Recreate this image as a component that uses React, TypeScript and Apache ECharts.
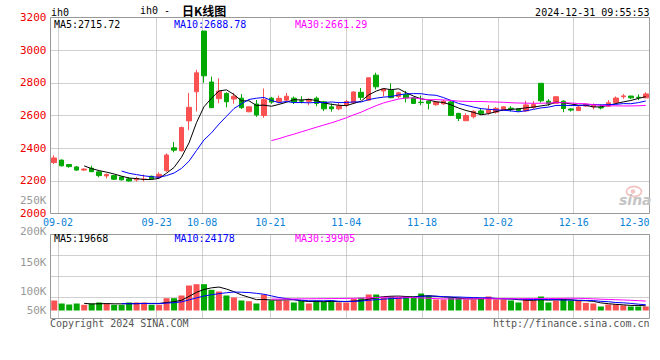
import React, { useEffect, useRef } from 'react';
import * as echarts from 'echarts';

// ---- data ----
const dates = [
  '08-30', '09-02', '09-03', '09-04', '09-05', '09-06', '09-09', '09-10', '09-11', '09-12', '09-13',
  '09-18', '09-19', '09-20', '09-23', '09-24', '09-25', '09-26', '09-27', '09-30',
  '10-08', '10-09', '10-10', '10-11', '10-14', '10-15', '10-16', '10-17', '10-18',
  '10-21', '10-22', '10-23', '10-24', '10-25', '10-28', '10-29', '10-30', '10-31', '11-01',
  '11-04', '11-05', '11-06', '11-07', '11-08', '11-11', '11-12', '11-13', '11-14', '11-15',
  '11-18', '11-19', '11-20', '11-21', '11-22', '11-25', '11-26', '11-27', '11-28', '11-29',
  '12-02', '12-03', '12-04', '12-05', '12-06', '12-09', '12-10', '12-11', '12-12', '12-13',
  '12-16', '12-17', '12-18', '12-19', '12-20', '12-23', '12-24', '12-25', '12-26', '12-27',
  '12-30',
];

const opens = [
  2312, 2327, 2300, 2285, 2266, 2277, 2255, 2230, 2232, 2224,
  2212, 2206, 2208, 2228, 2222, 2262, 2402, 2384, 2567, 2745,
  3117, 2805, 2703, 2735, 2701, 2706, 2623, 2670, 2600, 2706,
  2684, 2694, 2706, 2690, 2687, 2706, 2684, 2653, 2641, 2664,
  2678, 2742, 2694, 2847, 2750, 2755, 2716, 2728, 2708, 2681,
  2688, 2666, 2671, 2683, 2613, 2568, 2592, 2628, 2615, 2620,
  2632, 2645, 2641, 2628, 2650, 2797, 2688, 2675, 2688, 2640,
  2630, 2658, 2653, 2649, 2657, 2678, 2715, 2719, 2712, 2708,
];
const closes = [
  2340, 2292, 2287, 2266, 2272, 2256, 2232, 2239, 2210, 2206,
  2199, 2214, 2211, 2212, 2240, 2358, 2388, 2526, 2650, 2861,
  2843, 2648, 2749, 2684, 2718, 2648, 2653, 2603, 2697, 2682,
  2705, 2718, 2683, 2688, 2699, 2674, 2641, 2641, 2659, 2686,
  2744, 2711, 2831, 2776, 2763, 2709, 2739, 2708, 2674, 2679,
  2675, 2683, 2688, 2600, 2582, 2600, 2626, 2613, 2635, 2644,
  2653, 2641, 2631, 2665, 2667, 2690, 2673, 2715, 2643, 2633,
  2652, 2668, 2666, 2646, 2678, 2707, 2720, 2708, 2710, 2732,
];
const lows = [
  2303, 2288, 2280, 2261, 2262, 2254, 2222, 2215, 2205, 2202,
  2196, 2196, 2196, 2208, 2215, 2255, 2375, 2380, 2510, 2625,
  2800, 2645, 2675, 2650, 2672, 2641, 2620, 2592, 2586, 2672,
  2675, 2686, 2670, 2674, 2663, 2657, 2627, 2623, 2632, 2650,
  2672, 2695, 2690, 2760, 2716, 2705, 2705, 2680, 2670, 2663,
  2637, 2660, 2666, 2596, 2566, 2566, 2582, 2603, 2605, 2612,
  2628, 2625, 2622, 2622, 2640, 2680, 2660, 2672, 2620, 2624,
  2628, 2652, 2637, 2637, 2653, 2672, 2702, 2700, 2694, 2706,
];
const highs = [
  2357, 2330, 2302, 2291, 2277, 2292, 2258, 2245, 2236, 2228,
  2222, 2225, 2238, 2232, 2252, 2368, 2437, 2532, 2738, 2880,
  3118, 2838, 2828, 2742, 2737, 2731, 2655, 2695, 2765, 2714,
  2722, 2738, 2716, 2718, 2705, 2716, 2690, 2674, 2680, 2696,
  2748, 2768, 2833, 2862, 2766, 2797, 2745, 2750, 2712, 2722,
  2692, 2688, 2695, 2688, 2616, 2613, 2632, 2640, 2663, 2652,
  2657, 2657, 2645, 2690, 2688, 2798, 2700, 2716, 2692, 2645,
  2660, 2675, 2674, 2668, 2694, 2717, 2731, 2721, 2729, 2743,
];
const volumes = [
  42200, 29500, 25300, 29500, 24100, 29500, 33800, 29500, 24100, 24100,
  33800, 33800, 33800, 24100, 24100, 51900, 51900, 63300, 105500, 111000,
  111000, 87400, 80200, 63300, 54900, 42200, 39200, 29500, 67500, 42200,
  42200, 42200, 33800, 42200, 29500, 42200, 38000, 42200, 33800, 33800,
  49400, 53600, 67500, 67500, 53600, 59100, 56100, 59100, 59100, 71700,
  63300, 46400, 46400, 53600, 53600, 46400, 46400, 49400, 59100, 46400,
  46400, 42200, 33800, 49400, 42200, 59100, 33800, 42200, 49400, 42200,
  40000, 32000, 29500, 16900, 25300, 26000, 21800, 16900, 16900, 16900,
];

const tickLabels = ['09-02', '09-23', '10-08', '10-21', '11-04', '11-18', '12-02', '12-16', '12-30'];
const priceMaTexts = ['MA5:2715.72', 'MA10:2688.78', 'MA30:2661.29'];
const volMaTexts = ['MA5:19668', 'MA10:24178', 'MA30:39905'];
const volTickLabels = ['250K', '200K', '150K', '100K', '50K'];
const titleCode = 'ih0 -';
const titleName = '日K线图';
const timeStamp = '2024-12-31 09:55:53';

// ---- style / layout ----
const RED = '#fa5252';
const GREEN = '#00a800';
const MA_COLORS = ['#000000', '#0000ff', '#ff00ff'];
const MONO = '"DejaVu Sans Mono", monospace';
const GRID_LINE = '#a0a0a0';
const FRAME = '#999999';
const VOL_PER_PX = 4220;
const volTickY = [200.7, 231, 262, 291, 310];

function movingAverage(values: number[], n: number) {
  return values.map((_, i) => {
    if (i < n - 1) return '-';
    let s = 0;
    for (let k = i - n + 1; k <= i; k++) s += values[k];
    return +(s / n).toFixed(2);
  });
}

const isTick = (_i: number, v: string) => tickLabels.includes(v);

export default function App() {
  const ref = useRef<HTMLDivElement>(null);

  useEffect(() => {
    document.body.style.margin = '0';
    if (!ref.current) return;
    const chart = echarts.init(ref.current, undefined, { renderer: 'svg' });

    const candles = dates.map((_, i) => [opens[i], closes[i], lows[i], highs[i]]);
    const volData = volumes.map((v, i) => ({
      value: v,
      itemStyle: { color: closes[i] >= opens[i] ? RED : GREEN },
    }));
    const periods = [5, 10, 30];

    const text = (t: string, x: number, y: number, fill: string, extra: any = {}) => ({
      type: 'text',
      x,
      y,
      z: 100,
      style: {
        text: t,
        fill,
        font: `10px ${MONO}`,
        align: 'left',
        verticalAlign: 'middle',
        ...extra,
      },
    });

    const graphics: any[] = [
      text('ih0', 51, 12.3, '#000'),
      text(titleCode, 140, 10.5, '#000'),
      text(titleName, 182, 10.5, '#000', { font: 'bold 12px "Noto Sans CJK SC"' }),
      text(timeStamp, 649.5, 12.3, '#000', { align: 'right' }),
      ...priceMaTexts.map((t, k) => text(t, [54, 174, 295][k], 24.3, MA_COLORS[k])),
      ...volMaTexts.map((t, k) => text(t, [54, 174.5, 295][k], 238.3, MA_COLORS[k])),
      ...volTickLabels.map((t, k) => text(t, 46.5, volTickY[k], '#9a9a9a', { align: 'right', font: `11px ${MONO}` })),
      text('Copyright 2024 SINA.COM', 50, 323.5, '#555'),
      text('http://finance.sina.com.cn', 649.5, 323.5, '#555', { align: 'right' }),
      {
        type: 'ellipse',
        z: 1,
        shape: { cx: 634, cy: 191.5, rx: 7.5, ry: 5 },
        style: { fill: 'none', stroke: '#f2c4c4', lineWidth: 1.8 },
      },
      {
        type: 'circle',
        z: 1,
        shape: { cx: 633, cy: 191.5, r: 2.3 },
        style: { fill: '#f2c4c4' },
      },
      {
        type: 'text',
        z: 1,
        x: 619,
        y: 199.5,
        style: {
          text: 'sina',
          fill: '#c4c4c4',
          font: 'italic bold 14px "DejaVu Sans"',
          align: 'left',
          verticalAlign: 'middle',
        },
      },
    ];

    const option: any = {
      animation: false,
      backgroundColor: '#ffffff',
      grid: [
        { left: 50.5, top: 17.5, width: 599, height: 196, show: true, borderColor: FRAME, borderWidth: 1, backgroundColor: 'transparent' },
        { left: 50.5, top: 234.5, width: 599, height: 84, show: true, borderColor: FRAME, borderWidth: 1, backgroundColor: 'transparent' },
      ],
      xAxis: [
        { type: 'category', gridIndex: 0, data: dates, boundaryGap: true, show: false },
        {
          type: 'category',
          gridIndex: 0,
          data: dates,
          boundaryGap: false,
          position: 'bottom',
          axisLine: { show: false },
          axisTick: { show: false },
          axisLabel: {
            interval: isTick,
            color: '#0a82d6',
            fontFamily: MONO,
            fontSize: 10,
            margin: 4,
            alignMaxLabel: 'right',
          },
          splitLine: { show: true, interval: isTick, lineStyle: { type: 'dotted', color: GRID_LINE, width: 1 } },
        },
        { type: 'category', gridIndex: 1, data: dates, boundaryGap: true, show: false },
        {
          type: 'category',
          gridIndex: 1,
          data: dates,
          boundaryGap: false,
          axisLine: { show: false },
          axisTick: { show: false },
          axisLabel: { show: false },
          splitLine: { show: true, interval: isTick, lineStyle: { type: 'dotted', color: GRID_LINE, width: 1 } },
        },
      ],
      yAxis: [
        {
          type: 'value',
          gridIndex: 0,
          min: 2000,
          max: 3200,
          interval: 200,
          axisLine: { show: false },
          axisTick: { show: false },
          axisLabel: {
            color: '#ee0000',
            fontFamily: MONO,
            fontSize: 11,
            margin: 4,
            formatter: (v: number) => String(v),
          },
          splitLine: { show: true, showMinLine: false, showMaxLine: false, lineStyle: { type: 'dotted', color: GRID_LINE, width: 1 } },
        },
        {
          type: 'value',
          gridIndex: 1,
          min: -8 * VOL_PER_PX,
          max: 76 * VOL_PER_PX,
          show: false,
          splitLine: { show: false },
        },
        {
          type: 'value',
          gridIndex: 1,
          min: 0,
          max: 4,
          interval: 1,
          position: 'left',
          axisLine: { show: false },
          axisTick: { show: false },
          axisLabel: { show: false },
          splitLine: { show: true, showMinLine: false, showMaxLine: false, lineStyle: { type: 'dotted', color: GRID_LINE, width: 1 } },
        },
      ],
      series: [
        {
          type: 'candlestick',
          xAxisIndex: 0,
          yAxisIndex: 0,
          data: candles,
          barWidth: 5,
          itemStyle: { color: RED, color0: GREEN, borderColor: RED, borderColor0: GREEN, borderWidth: 1 },
          z: 3,
        },
        ...periods.map((n, k) => ({
          type: 'line',
          xAxisIndex: 0,
          yAxisIndex: 0,
          data: movingAverage(closes, n),
          symbol: 'none',
          lineStyle: { color: MA_COLORS[k], width: 1 },
          z: 4,
        })),
        {
          type: 'bar',
          xAxisIndex: 2,
          yAxisIndex: 1,
          data: volData,
          barWidth: 6,
          z: 3,
        },
        ...periods.map((n, k) => ({
          type: 'line',
          xAxisIndex: 2,
          yAxisIndex: 1,
          data: movingAverage(volumes, n),
          symbol: 'none',
          lineStyle: { color: MA_COLORS[k], width: 1 },
          z: 4,
        })),
      ],
      graphic: graphics,
    };

    chart.setOption(option);
    return () => chart.dispose();
  }, []);

  return <div ref={ref} style={{ width: 660, height: 360 }} />;
}
